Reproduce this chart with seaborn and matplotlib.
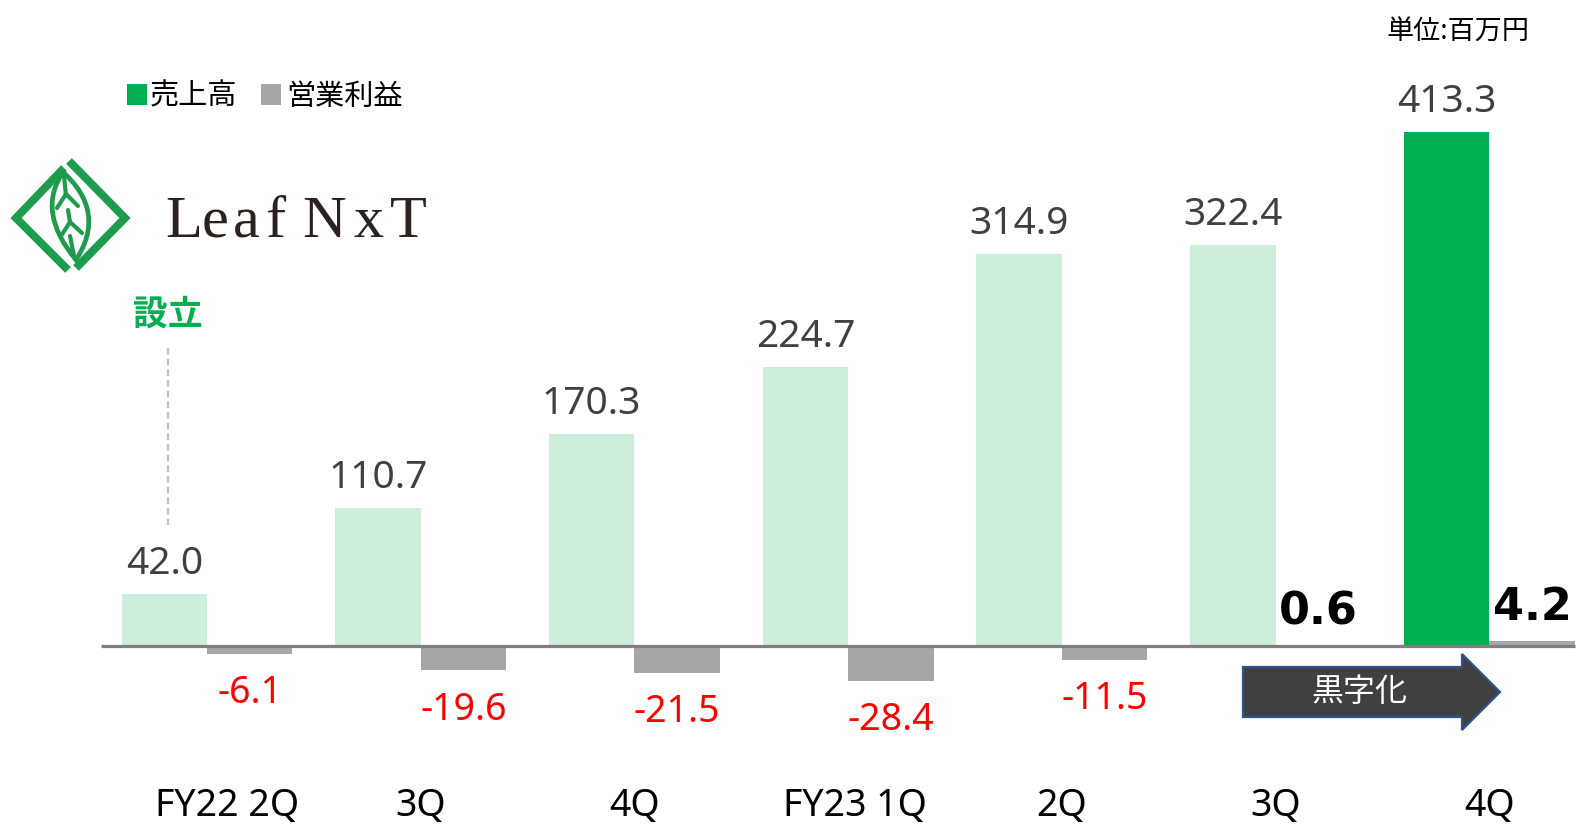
import matplotlib
matplotlib.use("Agg")
import matplotlib.pyplot as plt
import seaborn as sns
import pandas as pd
from matplotlib.patches import Polygon, Rectangle, PathPatch
from matplotlib.path import Path
from matplotlib.lines import Line2D

# ---------------- data ----------------
quarters = ["FY22 2Q", "3Q", "4Q", "FY23 1Q", "2Q", "3Q ", "4Q "]
tick_labels = ["FY22 2Q", "3Q", "4Q", "FY23 1Q", "2Q", "3Q", "4Q"]
sales = [42.0, 110.7, 170.3, 224.7, 314.9, 322.4, 413.3]
op_profit = [-6.1, -19.6, -21.5, -28.4, -11.5, 0.6, 4.2]
series_names = ["売上高", "営業利益"]
legend_labels = ["売上高", "営業利益"]
unit_label = "単位:百万円"
arrow_label = "黒字化"
founded_label = "設立"
logo_text = "Leaf NxT"

# ---------------- style ----------------
LIGHT_GREEN = "#CCEEDB"
DARK_GREEN = "#00B050"
GRAY = "#A6A6A6"
TEXT_GRAY = "#404040"
AXIS_GRAY = "#7F7F7F"
LOGO_GREEN = "#1F9B4E"

sns.set_theme(style="white")
plt.rcParams["font.family"] = ["Noto Sans", "Noto Sans CJK JP", "DejaVu Sans"]

W, H = 1580, 824
fig = plt.figure(figsize=(W / 100, H / 100), dpi=100)
ax = fig.add_axes([0, 0, 1, 1])

df = pd.DataFrame({
    "quarter": quarters * 2,
    "series": [series_names[0]] * len(quarters) + [series_names[1]] * len(quarters),
    "value": sales + op_profit,
})

sns.barplot(data=df, x="quarter", y="value", hue="series", order=quarters,
            hue_order=series_names,
            palette={series_names[0]: LIGHT_GREEN, series_names[1]: GRAY},
            saturation=1, width=0.8, linewidth=0, legend=False, ax=ax, zorder=2)

# highlight latest sales bar
sales_bars = ax.containers[0]
profit_bars = ax.containers[1]
sales_bars[-1].set_facecolor(DARK_GREEN)

# map data to pixel layout
x0_px, step_px = 207.0, 213.7
base_py, scale = 646.0, 1.2437
ax.set_xlim(-x0_px / step_px, (W - x0_px) / step_px)
ax.set_ylim((base_py - H) / scale, base_py / scale)
ax.axis("off")


def fx(px):
    return px / W


def fy(py):
    return 1 - py / H


xt = ax.get_xaxis_transform()

# baseline
ax.plot([(101 - x0_px) / step_px, (1575 - x0_px) / step_px], [0, 0],
        color=AXIS_GRAY, lw=2.3, zorder=3, solid_capstyle="butt")

# value labels for sales
for bar, v in zip(sales_bars, sales):
    cx = bar.get_x() + bar.get_width() / 2
    ax.annotate(f"{v:.1f}", xy=(cx, bar.get_height()), xytext=(0, 14.4),
                textcoords="offset points", ha="center", va="baseline",
                fontsize=28, color=TEXT_GRAY)

# value labels for operating profit
for bar, v in zip(profit_bars, op_profit):
    cx = bar.get_x() + bar.get_width() / 2
    if v < 0:
        ax.annotate(f"{v:.1f}", xy=(cx, v), xytext=(0, -14.5),
                    textcoords="offset points", ha="center", va="top",
                    fontsize=27, color="#FF0000")
    else:
        ax.annotate(f"{v:.1f}", xy=(cx, v), xytext=(0, 15),
                    textcoords="offset points", ha="center", va="baseline",
                    fontsize=32, fontweight="bold", family="DejaVu Sans",
                    color="black")

# category labels
label_nudge = [20, 0, 0, 7, 0, 0, 0]
for i, (lab, nd) in enumerate(zip(tick_labels, label_nudge)):
    ax.text(i + nd / step_px, fy(816), lab, transform=xt, ha="center",
            va="baseline", fontsize=27, color="black")

# legend
legend_colors = [DARK_GREEN, GRAY]
legend_sq_x = [127, 261]
legend_txt_x = [150, 286]
for lab, c, sx, tx in zip(legend_labels, legend_colors, legend_sq_x, legend_txt_x):
    fig.patches.append(Rectangle((fx(sx), fy(105)), 20 / W, 21 / H,
                                 transform=fig.transFigure, facecolor=c,
                                 edgecolor="none"))
    fig.text(fx(tx), fy(97), lab, ha="left", va="center", fontsize=21,
             color="black")

# unit
fig.text(fx(1530), fy(33), unit_label, ha="right", va="center", fontsize=19.5,
         color="black")

# founded marker
first_cx = sales_bars[0].get_x() + sales_bars[0].get_width() / 2
ax.plot([first_cx + 4 / step_px] * 2, [(base_py - 348) / scale, (base_py - 525) / scale],
        color="#BFBFBF", lw=1.6, ls=(0, (3, 1.8)), zorder=1)
ax.text(first_cx + 3 / step_px, fy(316), founded_label, transform=xt, ha="center",
        va="center", fontsize=25, fontweight="bold", color=DARK_GREEN)

# arrow 黒字化
arrow_pts = [(1243, 667), (1462, 667), (1462, 654), (1500, 692),
             (1462, 730), (1462, 717), (1243, 717)]
fig.patches.append(Polygon([(fx(x), fy(y)) for x, y in arrow_pts], closed=True,
                           transform=fig.transFigure, facecolor="#404040",
                           edgecolor="#2F528F", lw=1.6))
fig.text(fx(1359), fy(692), arrow_label, ha="center", va="center",
         fontsize=23, color="white")

# logo: diamond chevrons + leaf
lw_logo = 5.8
for pts in ([(64, 168), (16, 218), (68, 270)],
            [(69, 161), (125, 218), (76, 268)]):
    fig.lines.append(Line2D([fx(p[0]) for p in pts], [fy(p[1]) for p in pts],
                            transform=fig.transFigure, color=LOGO_GREEN,
                            lw=lw_logo, solid_joinstyle="miter",
                            solid_capstyle="butt"))
leaf_top, leaf_bot = (63, 172), (76, 260)
leaf = Path([(fx(leaf_top[0]), fy(leaf_top[1])), (fx(36), fy(212)),
             (fx(leaf_bot[0]), fy(leaf_bot[1])), (fx(107), fy(212)),
             (fx(leaf_top[0]), fy(leaf_top[1]))],
            [Path.MOVETO, Path.CURVE3, Path.CURVE3, Path.CURVE3, Path.CURVE3])
fig.patches.append(PathPatch(leaf, transform=fig.transFigure, facecolor="none",
                             edgecolor=LOGO_GREEN, lw=3.4))
for seg in ([(64, 176), (66, 196)], [(57, 208), (66, 194), (78, 206)],
            [(68, 210), (70, 222)], [(61, 236), (70, 222), (82, 233)],
            [(70, 236), (74, 256)]):
    fig.lines.append(Line2D([fx(p[0]) for p in seg], [fy(p[1]) for p in seg],
                            transform=fig.transFigure, color=LOGO_GREEN, lw=3))

letter_x = [165, 202, 233, 265, 302, 353, 390]
letters = [c for c in logo_text if c != " "]
for ch, lx in zip(letters, letter_x):
    fig.text(fx(lx), fy(237), ch, ha="left", va="baseline", fontsize=43.5,
             family="Liberation Serif", color="#2B2220")

fig.savefig("out.png", dpi=100)
